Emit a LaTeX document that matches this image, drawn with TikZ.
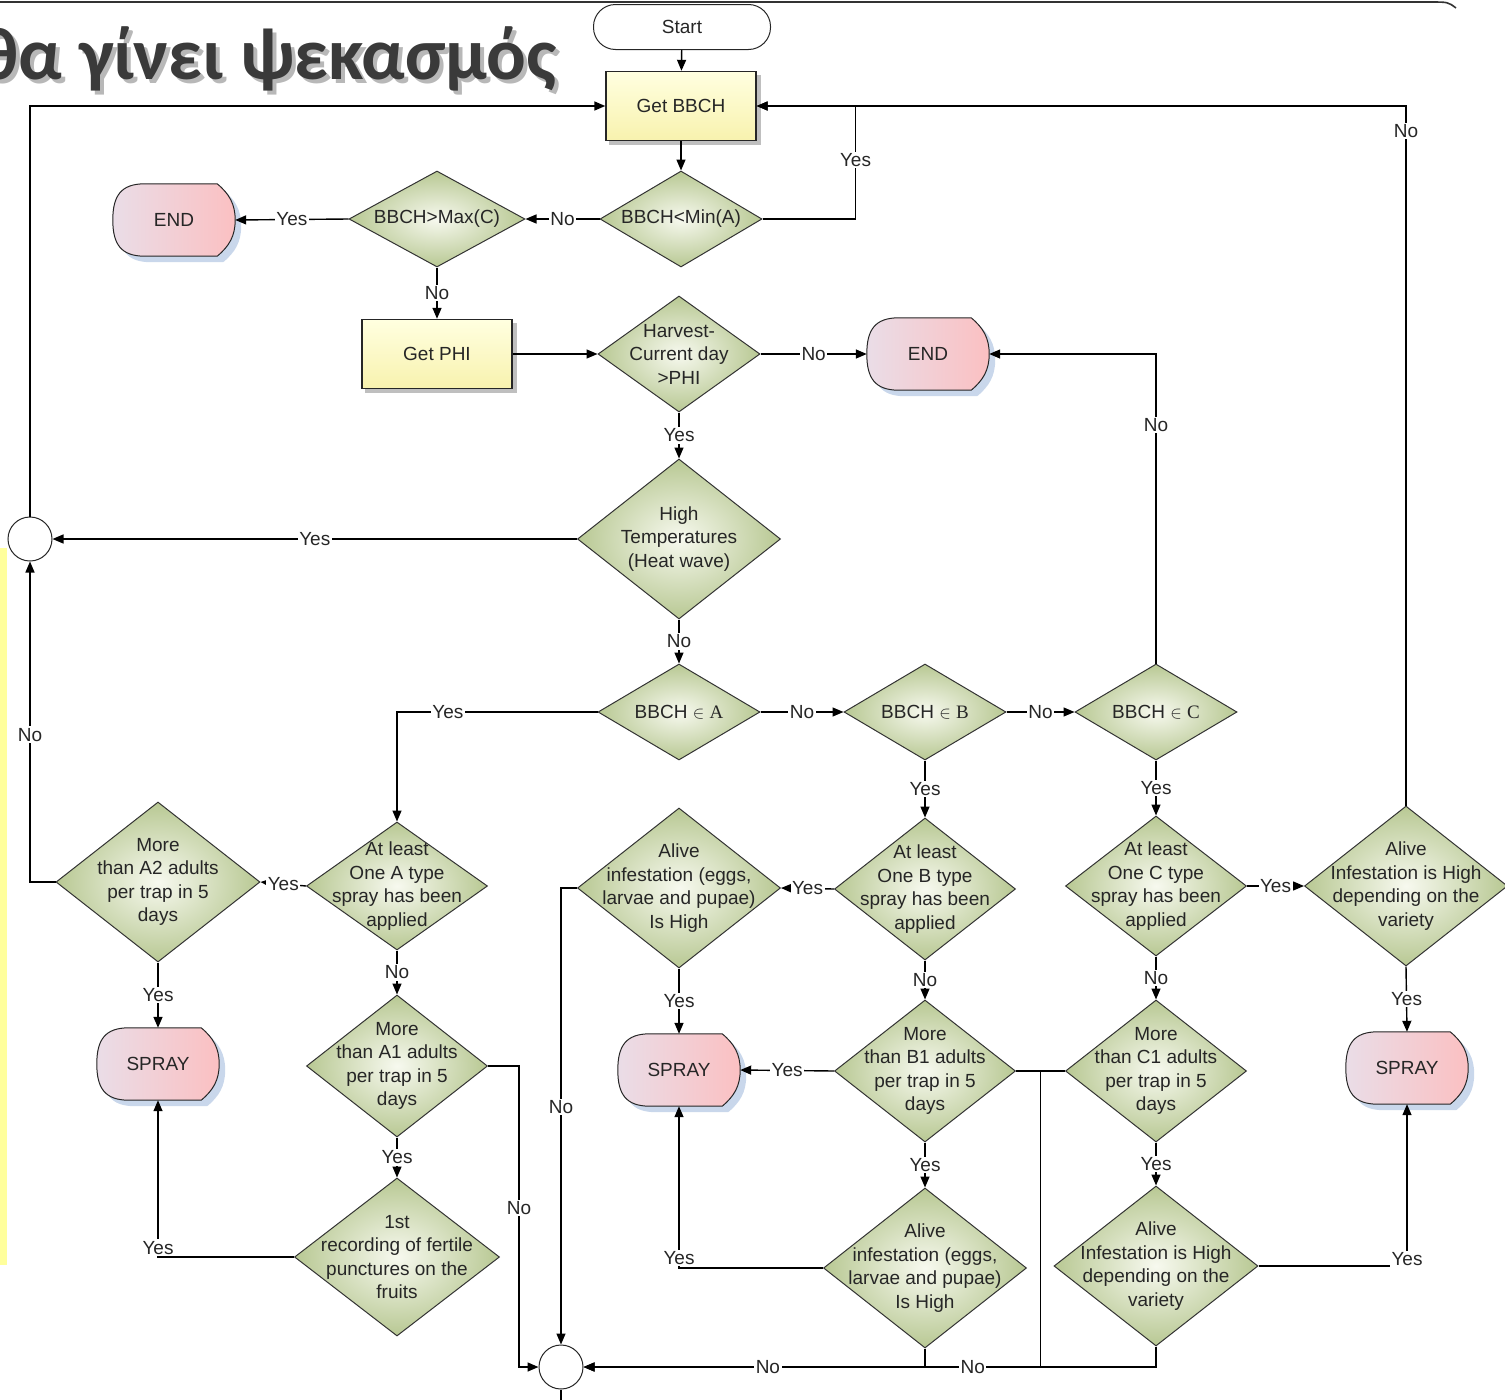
\documentclass[tikz,border=0pt]{standalone}
\usepackage{fontspec}
\setmainfont{Liberation Sans}
\newfontfamily\titlefont{Carlito}
\newfontfamily\letterfont{Liberation Serif}
\usetikzlibrary{shapes.geometric,arrows.meta,calc,backgrounds}
\definecolor{diain}{HTML}{F7F9EF}
\definecolor{diaout}{HTML}{B8C893}
\definecolor{boxin}{HTML}{FFFFE0}
\definecolor{boxout}{HTML}{F8F2AE}
\definecolor{pinkl}{HTML}{EADDE7}
\definecolor{pinkr}{HTML}{FBC0C2}
\definecolor{shadowc}{HTML}{C9D7EB}
\definecolor{titlec}{HTML}{3A3A3A}
\definecolor{stripc}{HTML}{FFFF9C}
\newcommand\dfont{\fontsize{19}{23.5}\selectfont}
\newcommand\termpath[3]{%
  ($(#1.north west)+(32+#2,#3)$) -- ($(#1.north east)+(-18+#2,#3)$)
  .. controls ($(#1.north east)+(-6+#2,-10+#3)$) and ($(#1.east)+(#2,16+#3)$) .. ($(#1.east)+(#2,#3)$)
  .. controls ($(#1.east)+(#2,-16+#3)$) and ($(#1.south east)+(-6+#2,10+#3)$) .. ($(#1.south east)+(-18+#2,#3)$)
  -- ($(#1.south west)+(32+#2,#3)$)
  .. controls ($(#1.south west)+(8+#2,#3)$) and ($(#1.west)+(#2,-24+#3)$) .. ($(#1.west)+(#2,#3)$)
  .. controls ($(#1.west)+(#2,24+#3)$) and ($(#1.north west)+(8+#2,#3)$) .. cycle}
\tikzset{
  dia/.style={diamond, draw=black!80, line width=1pt, shade, shading=radial,
    inner color=diain, outer color=diaout, inner sep=0pt},
  txt/.style={align=center, font=\dfont, text=black!85, inner sep=0pt},
  getbox/.style={rectangle, draw=black!85, line width=1.4pt, top color=boxin,
    bottom color=boxout, font=\dfont, text=black!85, minimum width=150pt, minimum height=69pt},
  termbox/.style={rectangle, minimum width=122pt, minimum height=72pt, font=\dfont,
    text=black!85, inner sep=0pt},
  joint/.style={circle, draw=black!85, fill=white, line width=1pt, minimum size=44pt, inner sep=0pt},
  conn/.style={line width=1.4pt, draw=black},
  arr/.style={conn, -{Triangle[length=11pt,width=9pt]}},
  lbl/.style={fill=white, inner sep=1.5pt, font=\dfont, text=black!85},
}
\begin{document}
\begin{tikzpicture}[x=1pt,y=1pt]
\useasboundingbox (0,0) rectangle (1505,-1400);
\clip (0,0) rectangle (1505,-1400);
\fill[stripc] (0,-548) rectangle (7,-1265);
\draw[line width=1.6pt, black!80] (0,-2) -- (1430,-2) .. controls (1448,-2) .. (1456,-8);
\node[anchor=base east, font=\titlefont\bfseries\fontsize{74}{74}\selectfont, text=black!28] (titleshade) at (564,-83) {θα γίνει ψεκασμός};
\node[anchor=base east, font=\titlefont\bfseries\fontsize{74}{74}\selectfont, text=titlec] (title) at (560,-79) {θα γίνει ψεκασμός};

\node[termbox, rounded corners=22pt, draw=black!85, line width=1pt, minimum width=177pt, minimum height=45pt] (start) at (682,-27) {Start};
\node[getbox] (bbch) at (681,-106) {Get BBCH};
\node[dia, minimum width=162pt, minimum height=96pt, label={[txt]center:BBCH<Min(A)}] (min) at (681,-219) {};
\node[dia, minimum width=176pt, minimum height=96pt, label={[txt]center:BBCH>Max(C)}] (max) at (437,-219) {};
\node[termbox] (end1) at (174,-220) {END};
\node[getbox] (phi) at (437,-354) {Get PHI};
\node[dia, minimum width=162pt, minimum height=116pt, label={[txt]center:{Harvest-\\Current day\\>PHI}}] (harv) at (679,-354) {};
\node[termbox] (end2) at (928,-354) {END};
\node[dia, minimum width=203pt, minimum height=160pt, label={[txt]center:{High\\Temperatures\\(Heat wave)}}] (hot) at (679,-539) {};
\node[joint] (circ1) at (30,-539) {};
\node[dia, minimum width=162pt, minimum height=96pt, label={[txt]center:{BBCH $\in$ {\letterfont A}}}] (ina) at (679,-712) {};
\node[dia, minimum width=162pt, minimum height=96pt, label={[txt]center:{BBCH $\in$ {\letterfont B}}}] (inb) at (925,-712) {};
\node[dia, minimum width=162pt, minimum height=96pt, label={[txt]center:{BBCH $\in$ {\letterfont C}}}] (inc) at (1156,-712) {};

\node[dia, minimum width=181pt, minimum height=128pt, label={[txt]center:{At least\\One A type\\spray has been\\applied}}] (atla) at (397,-886) {};
\node[dia, minimum width=204pt, minimum height=160pt, label={[txt]center:{More\\than A2 adults\\per trap in 5\\days}}] (more2) at (158,-882) {};
\node[termbox] (spray1) at (158,-1064) {SPRAY};
\node[dia, minimum width=181pt, minimum height=142pt, label={[txt]center:{More\\than A1 adults\\per trap in 5\\days}}] (more1) at (397,-1066) {};
\node[dia, minimum width=205pt, minimum height=158pt, label={[txt]center:{1st\\recording of fertile\\punctures on the\\fruits}}] (rec) at (397,-1257) {};

\node[dia, minimum width=203pt, minimum height=160pt, label={[txt]center:{Alive\\infestation (eggs,\\larvae and pupae)\\Is High}}] (aliveb1) at (679,-888) {};
\node[dia, minimum width=181pt, minimum height=142pt, label={[txt]center:{At least\\One B type\\spray has been\\applied}}] (atlb) at (925,-889) {};
\node[termbox] (spray2) at (679,-1070) {SPRAY};
\node[dia, minimum width=181pt, minimum height=142pt, label={[txt]center:{More\\than B1 adults\\per trap in 5\\days}}] (moreb1) at (925,-1071) {};
\node[dia, minimum width=203pt, minimum height=160pt, label={[txt]center:{Alive\\infestation (eggs,\\larvae and pupae)\\Is High}}] (aliveb2) at (925,-1268) {};

\node[dia, minimum width=181pt, minimum height=140pt, label={[txt]center:{At least\\One C type\\spray has been\\applied}}] (atlc) at (1156,-886) {};
\node[dia, minimum width=181pt, minimum height=142pt, label={[txt]center:{More\\than C1 adults\\per trap in 5\\days}}] (morec1) at (1156,-1071) {};
\node[dia, minimum width=204pt, minimum height=160pt, label={[txt]center:{Alive\\Infestation is High\\depending on the\\variety}}] (alivec2) at (1156,-1266) {};
\node[dia, minimum width=203pt, minimum height=160pt, label={[txt]center:{Alive\\Infestation is High\\depending on the\\variety}}] (alivecr) at (1406,-886) {};
\node[termbox] (spray3) at (1407,-1068) {SPRAY};
\node[joint] (circ2) at (561,-1367) {};

\begin{scope}[on background layer]
\foreach \n in {end1,end2,spray1,spray2,spray3}{
  \fill[shadowc] \termpath{\n}{6}{-6};
  \shade[left color=pinkl, right color=pinkr, draw=black!85, line width=1pt] \termpath{\n}{0}{0};
}
\fill[black!25] ([shift={(4,-4)}]bbch.south west) rectangle ([shift={(4,-4)}]bbch.north east);
\fill[black!25] ([shift={(4,-4)}]phi.south west) rectangle ([shift={(4,-4)}]phi.north east);
\end{scope}

\draw[arr] (start) -- (bbch);
\draw[arr] (bbch) -- (min);
\draw[arr] (min.west) -- node[lbl]{No} (max.east);
\draw[arr] (min.east) -- ++(93,0) |- node[lbl,pos=0.26]{Yes} (bbch.east);
\draw[arr] (alivecr.north) |- node[lbl,pos=0.482]{No} (bbch.east);
\draw[arr] (max.west) -- node[lbl]{Yes} (end1.east);
\draw[arr] (max.south) -- node[lbl]{No} (phi.north);
\draw[arr] (phi.east) -- (harv.west);
\draw[arr] (harv.east) -- node[lbl]{No} (end2.west);
\draw[arr] (harv.south) -- node[lbl]{Yes} (hot.north);
\draw[arr] (hot.west) -- node[lbl]{Yes} (circ1.east);
\draw[arr] (circ1.north) |- (bbch.west);
\draw[arr] (hot.south) -- node[lbl]{No} (ina.north);
\draw[arr] (ina.east) -- node[lbl]{No} (inb.west);
\draw[arr] (inb.east) -- node[lbl]{No} (inc.west);
\draw[arr] (inc.north) |- node[lbl,pos=0.385]{No} (end2.east);

\draw[arr] (ina.west) -| node[lbl,pos=0.373]{Yes} (atla.north);
\draw[arr] (atla.west) -- node[lbl]{Yes} (more2.east);
\draw[arr] (more2.south) -- node[lbl]{Yes} (spray1.north);
\draw[arr] (more2.west) -| node[lbl,pos=0.73]{No} (circ1.south);
\draw[arr] (atla.south) -- node[lbl]{No} (more1.north);
\draw[arr] (more1.south) -- node[lbl]{Yes} (rec.north);
\draw[arr] (more1.east) -- ++(31,0) |- node[lbl,pos=0.236]{No} (circ2.west);
\draw[arr] (rec.west) -| node[lbl,pos=0.53]{Yes} (spray1.south);

\draw[arr] (inb.south) -- node[lbl]{Yes} (atlb.north);
\draw[arr] (atlb.west) -- node[lbl]{Yes} (aliveb1.east);
\draw[arr] (aliveb1.south) -- node[lbl]{Yes} (spray2.north);
\draw[arr] (aliveb1.west) -| node[lbl,pos=0.74]{No} (circ2.north);
\draw[arr] (atlb.south) -- node[lbl]{No} (moreb1.north);
\draw[arr] (moreb1.west) -- node[lbl]{Yes} (spray2.east);
\draw[arr] (moreb1.south) -- node[lbl]{Yes} (aliveb2.north);
\draw[arr] (aliveb2.west) -| node[lbl,pos=0.53]{Yes} (spray2.south);
\draw[arr] (alivec2.south) |- node[lbl,pos=0.66]{No} (circ2.east);
\draw[arr] (aliveb2.south) |- node[lbl,pos=0.73]{No} (circ2.east);
\draw[conn] (moreb1.east) -- coordinate (jbc) (morec1.west);
\draw[conn] (jbc) -- (jbc |- circ2.east);
\draw[conn] (circ2.south) -- ++(0,-15);

\draw[arr] (inc.south) -- node[lbl]{Yes} (atlc.north);
\draw[arr] (atlc.east) -- node[lbl]{Yes} (alivecr.west);
\draw[arr] (atlc.south) -- node[lbl]{No} (morec1.north);
\draw[arr] (morec1.south) -- node[lbl]{Yes} (alivec2.north);
\draw[arr] (alivec2.east) -| node[lbl,pos=0.52]{Yes} (spray3.south);
\draw[arr] (alivecr.south) -- node[lbl]{Yes} (spray3.north);
\end{tikzpicture}
\end{document}
